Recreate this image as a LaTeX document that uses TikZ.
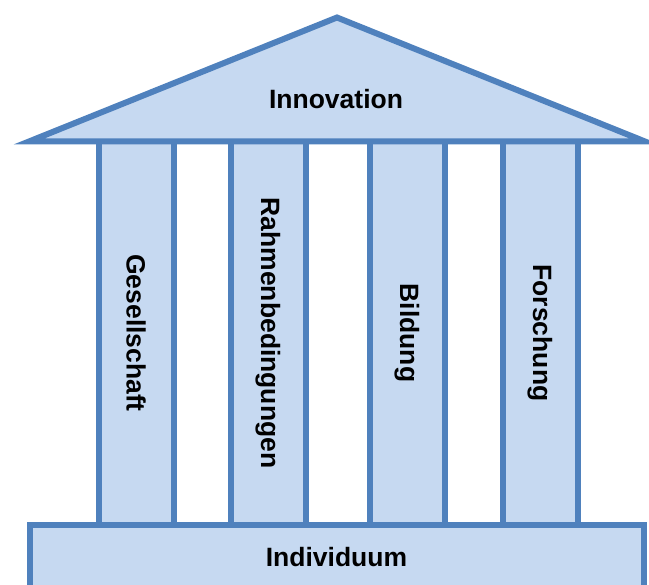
\documentclass[tikz,border=0pt]{standalone}
\usepackage{fontspec}
\setmainfont{Liberation Sans}
\usetikzlibrary{positioning}
\definecolor{pillarfill}{HTML}{C6D9F1}
\definecolor{pillarline}{HTML}{4F81BD}

\begin{document}
\begin{tikzpicture}[x=1pt, y=-1pt, line width=6pt, every node/.style={font=\fontsize{26.5}{30}\selectfont\bfseries}, pillar/.style={draw=pillarline, fill=pillarfill, rectangle, rotate=-90, minimum width=384pt, minimum height=75pt, inner sep=0pt}, plinth/.style={draw=pillarline, fill=pillarfill, rectangle, minimum width=614pt, minimum height=64pt, inner sep=0pt}]
  \useasboundingbox (0,0) rectangle (649,585);
  \clip (0,0) rectangle (649,585);

  \node[pillar] (Gesellschaft) at (136,333) {Gesellschaft};
  \node[pillar] (Rahmen) at (268,333) {Rahmenbedingungen};
  \node[pillar] (Bildung) at (407,333) {Bildung};
  \node[pillar] (Forschung) at (540,333) {Forschung};

  \coordinate (RoofLeft) at (29,141.5);
  \coordinate (RoofTop) at (337,17.5);
  \coordinate (RoofRight) at (645,141.5);
  \draw[draw=pillarline, fill=pillarfill] (RoofLeft) -- (RoofTop) -- (RoofRight) -- cycle;
  \node (Innovation) at (336,99) {Innovation};

  \node[plinth] (Individuum) at (336.5,557) {Individuum};
\end{tikzpicture}
\end{document}
